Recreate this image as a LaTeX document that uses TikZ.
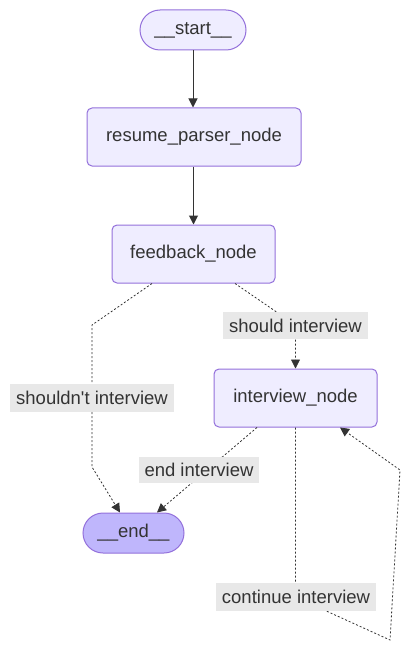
\documentclass[tikz,border=0pt]{standalone}
\usepackage{fontspec}
\setmainfont{Liberation Sans}
\usetikzlibrary{arrows.meta,calc}
\definecolor{nodefill}{HTML}{EFEDFF}
\definecolor{nodedraw}{HTML}{9370DB}
\definecolor{endfill}{HTML}{BFB6FC}
\definecolor{txt}{HTML}{333333}
\definecolor{lblbg}{HTML}{E8E8E8}
\tikzset{
  box/.style={draw=nodedraw, fill=nodefill, line width=1pt, rounded corners=5pt,
    minimum height=58pt, inner sep=0pt, text=txt,
    font=\fontsize{18.5}{20}\selectfont},
  pill/.style={box, rounded corners=20pt, minimum height=40pt},
  lbl/.style={fill=lblbg, text=txt, inner sep=0pt, minimum height=27pt,
    font=\fontsize{18.5}{20}\selectfont},
  solidedge/.style={draw=txt, line width=1pt, -{Triangle[length=9pt,width=9pt]}},
  dotedge/.style={solidedge, line width=0.8pt, dash pattern=on 2pt off 2pt},
}
\begin{document}
\begin{tikzpicture}[x=1pt,y=-1pt]
\useasboundingbox (0,0) rectangle (408,650);
% nodes
\node[pill, minimum width=106pt] (start) at (193,30) {\_\_start\_\_};
\node[box, minimum width=214pt] (rp) at (194,137) {resume\_parser\_node};
\node[box, minimum width=163pt] (fb) at (193.5,254) {feedback\_node};
\node[box, minimum width=163pt] (iv) at (295.5,398) {interview\_node};
\node[pill, fill=endfill, minimum width=101pt] (end) at (133.5,533) {\_\_end\_\_};
% waypoints
\coordinate (w1) at (295.5,325);
\coordinate (w2) at (92,325);
\coordinate (w3) at (92,467);
\coordinate (w4) at (295.5,597);
\coordinate (w5) at (390,640);
\coordinate (w6) at (400,470);
% edges
\draw[solidedge] (start.south) -- (start.south |- rp.north);
\draw[solidedge] (rp.south -| fb.north) -- (fb.north);
\draw[dotedge] ([xshift=41.5pt]fb.south) -- (w1) -- (iv.north);
\draw[dotedge] ([xshift=-41.5pt]fb.south) -- (w2) -- (w3) -- ([xshift=-13.5pt]end.north);
\draw[dotedge] ([xshift=-38.5pt]iv.south) -- ([xshift=23.5pt]end.north);
\draw[dotedge] (iv.south) -- (w4) -- (w5) -- (w6) -- ([xshift=44.5pt]iv.south);
% labels
\node[lbl, minimum width=145pt] (l1) at (295.5,325.5) {should interview};
\node[lbl, minimum width=164pt, minimum height=28pt] (l2) at (92,398) {shouldn\textquotesingle t interview};
\node[lbl, minimum width=120pt, minimum height=26pt] (l3) at (199,470) {end interview};
\node[lbl, minimum width=160pt, minimum height=28pt] (l4) at (296,597) {continue interview};
\end{tikzpicture}
\end{document}
